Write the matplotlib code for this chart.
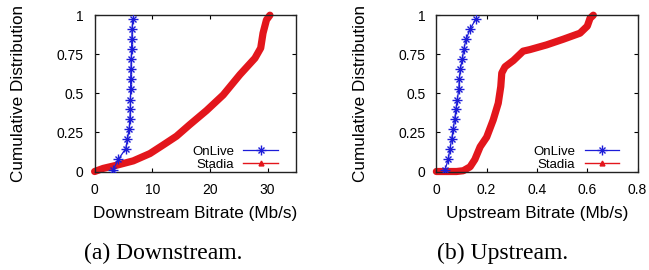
import matplotlib
matplotlib.use("Agg")
import matplotlib.pyplot as plt
from matplotlib.lines import Line2D
from matplotlib.legend_handler import HandlerTuple

# CDF levels shared by both OnLive series
onlive_y = [0.01, 0.077, 0.147, 0.21, 0.273, 0.337, 0.40, 0.46, 0.525, 0.59,
            0.654, 0.718, 0.782, 0.846, 0.91, 0.974]
onlive_down_x = [3.2, 4.1, 5.4, 5.7, 6.0, 6.1, 6.2, 6.2, 6.25, 6.25, 6.3, 6.35,
                 6.4, 6.45, 6.5, 6.6]
onlive_up_x = [0.034, 0.047, 0.054, 0.061, 0.067, 0.073, 0.078, 0.083, 0.089,
               0.091, 0.095, 0.103, 0.109, 0.118, 0.134, 0.156]

stadia_down_x = [0, 1.5, 3.8, 6.7, 9.6, 11.9, 14.2, 16.5, 19.4, 22.3, 25.2,
                 27.8, 28.8, 29.2, 29.8, 30.4]
stadia_down_y = [0, 0.02, 0.04, 0.068, 0.115, 0.17, 0.226, 0.30, 0.39, 0.49,
                 0.62, 0.725, 0.79, 0.885, 0.97, 1.0]
stadia_up_x = [0, 0.08, 0.107, 0.134, 0.153, 0.174, 0.2, 0.226, 0.246, 0.256,
               0.26, 0.273, 0.306, 0.345, 0.372, 0.438, 0.504, 0.571, 0.6,
               0.611, 0.624]
stadia_up_y = [0, 0, 0.005, 0.03, 0.077, 0.158, 0.22, 0.33, 0.437, 0.543,
               0.63, 0.67, 0.71, 0.77, 0.78, 0.81, 0.846, 0.885, 0.93, 0.98, 1.0]

y_ticks = [0, 0.25, 0.5, 0.75, 1]
y_ticklabels = ["0", "0.25", "0.5", "0.75", "1"]
down_ticks = [0, 10, 20, 30]
up_ticks = [0, 0.2, 0.4, 0.6, 0.8]
up_ticklabels = ["0", "0.2", "0.4", "0.6", "0.8"]

blue = "#1c1cd8"
red = "#e3161c"

plt.rcParams["font.family"] = ["Liberation Sans", "DejaVu Sans"]

fig = plt.figure(figsize=(6.49, 2.70), dpi=100)
ax1 = fig.add_axes([0.1458, 0.3648, 0.311, 0.5789])
ax2 = fig.add_axes([0.6724, 0.3648, 0.310, 0.5789])


def draw(ax, sx, sy, ox, xlim, xticks, xticklabels, xlabel):
    ax.plot(sx, sy, color=red, lw=5.2, solid_capstyle="round",
            solid_joinstyle="round", clip_on=False, zorder=2)
    ax.plot(ox, onlive_y, color=blue, lw=0.9, marker="+", ms=6.5, mew=1.0,
            zorder=3)
    ax.plot(ox, onlive_y, color=blue, lw=0, marker="x", ms=4.8, mew=1.0,
            zorder=3)
    ax.set_xlim(*xlim)
    ax.set_ylim(0, 1)
    ax.set_xticks(xticks)
    ax.set_xticklabels(xticklabels)
    ax.set_yticks(y_ticks)
    ax.set_yticklabels(y_ticklabels)
    ax.tick_params(direction="in", length=3, width=0.8, labelsize=10, pad=8,
                   top=True, right=True)
    for s in ax.spines.values():
        s.set_linewidth(1.0)
        s.set_color("#222222")
    ax.set_xlabel(xlabel, fontsize=12.3, labelpad=7)
    ax.set_ylabel("Cumulative Distribution", fontsize=12.3)
    ax.yaxis.set_label_coords(-0.34, 0.5)

    h1 = (Line2D([], [], color=blue, lw=0.9, marker="+", ms=6.5, mew=1.0),
          Line2D([], [], color=blue, lw=0, marker="x", ms=4.8, mew=1.0))
    h2 = Line2D([], [], color=red, lw=1.0, marker="^", ms=3.5)
    ax.legend([h1, h2], ["OnLive", "Stadia"], loc="lower right",
              bbox_to_anchor=(0.907, 0.005), frameon=False, markerfirst=False,
              fontsize=9.5, handlelength=2.6, handletextpad=0.7,
              labelspacing=0.05, borderpad=0, borderaxespad=0,
              handler_map={tuple: HandlerTuple(ndivide=1)})


draw(ax1, stadia_down_x, stadia_down_y, onlive_down_x, (0, 35), down_ticks,
     [str(t) for t in down_ticks], "Downstream Bitrate (Mb/s)")
draw(ax2, stadia_up_x, stadia_up_y, onlive_up_x, (0, 0.8), up_ticks,
     up_ticklabels, "Upstream Bitrate (Mb/s)")

fig.text(163.3 / 649, 1 - 259.5 / 270, "(a) Downstream.", ha="center",
         va="baseline", fontsize=17, family=["Liberation Serif", "DejaVu Serif"])
fig.text(503 / 649, 1 - 259.5 / 270, "(b) Upstream.", ha="center",
         va="baseline", fontsize=17, family=["Liberation Serif", "DejaVu Serif"])

fig.savefig("out.png", dpi=100)
